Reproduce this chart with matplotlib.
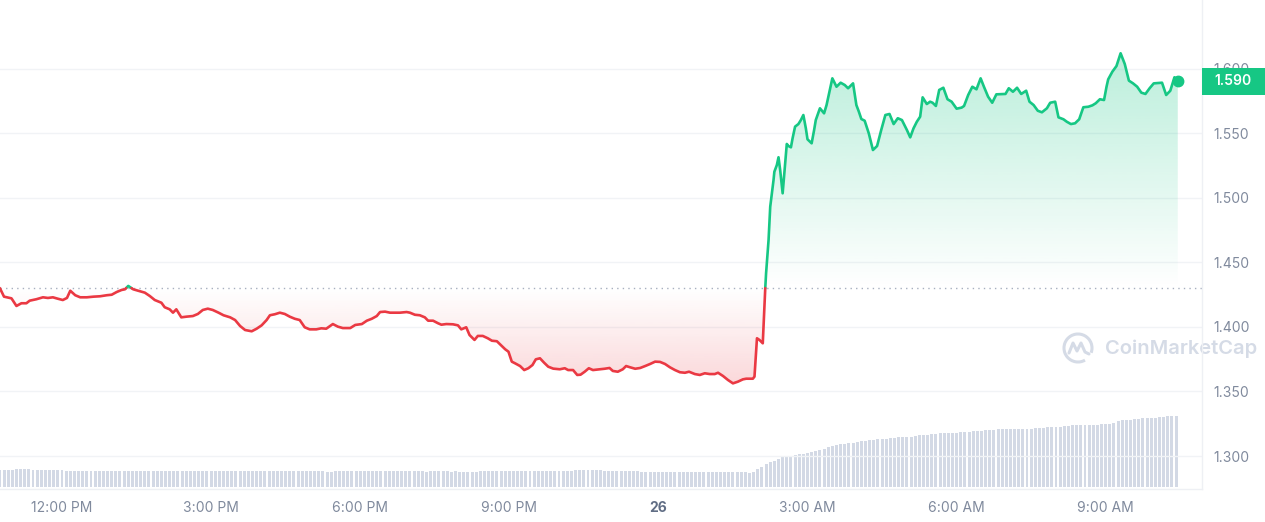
import numpy as np
import matplotlib
matplotlib.use("Agg")
import matplotlib.pyplot as plt
from matplotlib.path import Path
from matplotlib.patches import Rectangle, Arc
from matplotlib.lines import Line2D
from matplotlib.colors import to_rgb
import matplotlib.transforms as mtransforms

plt.rcParams['font.family'] = ['Inter', 'DejaVu Sans']

# ---------------- data ----------------
START_HOUR = 10.75          # first point: 10:45 AM on the 25th
price_minutes = [0, 5, 14, 20, 26, 32, 36, 44, 52, 58, 64, 70, 76, 81, 85, 91, 97, 105, 113, 121,
                 129, 135, 141, 147, 151, 155, 161, 169, 175, 181, 187, 195, 199, 205, 209, 213, 219, 225, 233, 239,
                 245, 251, 257, 264, 270, 278, 284, 290, 296, 304, 310, 316, 322, 326, 332, 338, 344, 350, 356, 362,
                 368, 374, 382, 388, 394, 402, 408, 414, 423, 429, 437, 443, 449, 455, 459, 465, 471, 483, 491, 495,
                 501, 507, 513, 517, 523, 529, 533, 539, 547, 553, 557, 563, 567, 573, 577, 583, 589, 594, 600, 606,
                 610, 614, 618, 622, 628, 633, 638, 643, 647, 652, 657, 662, 668, 676, 682, 686, 692, 697, 701, 706,
                 711, 716, 724, 730, 736, 740, 746, 752, 756, 761, 767, 773, 779, 785, 791, 797, 803, 809, 815, 821,
                 827, 832, 839, 845, 851, 857, 863, 867, 873, 879, 885, 891, 897, 901, 909, 911, 914, 917, 921, 924,
                 925, 928, 930, 934, 935, 938, 940, 942, 945, 947, 950, 952, 955, 957, 960, 964, 967, 970, 973, 975,
                 980, 983, 985, 990, 995, 998, 1002, 1005, 1010, 1015, 1020, 1024, 1030, 1034, 1037, 1040, 1044, 1049, 1054, 1059,
                 1064, 1069, 1074, 1079, 1084, 1089, 1095, 1099, 1103, 1107, 1111, 1114, 1119, 1123, 1126, 1130, 1134, 1139, 1144, 1149,
                 1155, 1161, 1164, 1169, 1174, 1179, 1184, 1188, 1193, 1198, 1203, 1214, 1218, 1223, 1228, 1233, 1239, 1243, 1248, 1253,
                 1258, 1264, 1268, 1274, 1278, 1284, 1288, 1293, 1298, 1303, 1308, 1314, 1319, 1323, 1328, 1333, 1336, 1338, 1343, 1348,
                 1353, 1358, 1363, 1368, 1373, 1378, 1383, 1388, 1393, 1403, 1408, 1413, 1418, 1422]
price_values = [1.4300, 1.4234, 1.4221, 1.4162, 1.4183, 1.4183, 1.4203, 1.4214, 1.4229, 1.4224, 1.4229, 1.4218, 1.4208, 1.4224, 1.4280, 1.4245, 1.4229, 1.4229, 1.4234, 1.4237,
                1.4245, 1.4249, 1.4270, 1.4286, 1.4291, 1.4317, 1.4291, 1.4276, 1.4265, 1.4239, 1.4208, 1.4187, 1.4152, 1.4136, 1.4110, 1.4136, 1.4074, 1.4079, 1.4084, 1.4100,
                1.4131, 1.4141, 1.4131, 1.4110, 1.4090, 1.4074, 1.4053, 1.4007, 1.3976, 1.3966, 1.3986, 1.4012, 1.4053, 1.4090, 1.4098, 1.4110, 1.4100, 1.4079, 1.4063, 1.4053,
                1.3997, 1.3981, 1.3981, 1.3989, 1.3986, 1.4022, 1.4002, 1.3991, 1.3991, 1.4015, 1.4022, 1.4048, 1.4063, 1.4084, 1.4115, 1.4118, 1.4110, 1.4110, 1.4115, 1.4110,
                1.4094, 1.4090, 1.4074, 1.4048, 1.4048, 1.4028, 1.4017, 1.4022, 1.4020, 1.4012, 1.3981, 1.3997, 1.3937, 1.3899, 1.3930, 1.3930, 1.3912, 1.3893, 1.3889, 1.3852,
                1.3827, 1.3808, 1.3731, 1.3718, 1.3697, 1.3666, 1.3680, 1.3705, 1.3749, 1.3757, 1.3723, 1.3692, 1.3677, 1.3672, 1.3680, 1.3666, 1.3666, 1.3628, 1.3630, 1.3653,
                1.3680, 1.3666, 1.3672, 1.3676, 1.3682, 1.3659, 1.3653, 1.3672, 1.3697, 1.3687, 1.3676, 1.3682, 1.3697, 1.3713, 1.3731, 1.3729, 1.3713, 1.3687, 1.3666, 1.3649,
                1.3645, 1.3653, 1.3635, 1.3628, 1.3641, 1.3635, 1.3635, 1.3645, 1.3620, 1.3589, 1.3563, 1.3576, 1.3594, 1.3599, 1.3599, 1.3615, 1.3912, 1.3899, 1.3873, 1.4299,
                1.4415, 1.4673, 1.4930, 1.5137, 1.5201, 1.5253, 1.5313, 1.5214, 1.5034, 1.5189, 1.5416, 1.5400, 1.5390, 1.5460, 1.5550, 1.5570, 1.5601, 1.5640, 1.5537, 1.5452,
                1.5421, 1.5524, 1.5601, 1.5692, 1.5653, 1.5717, 1.5834, 1.5924, 1.5859, 1.5890, 1.5872, 1.5847, 1.5885, 1.5717, 1.5666, 1.5609, 1.5596, 1.5498, 1.5369, 1.5400,
                1.5524, 1.5640, 1.5648, 1.5570, 1.5615, 1.5601, 1.5524, 1.5467, 1.5537, 1.5588, 1.5627, 1.5777, 1.5725, 1.5743, 1.5735, 1.5710, 1.5834, 1.5851, 1.5762, 1.5743,
                1.5689, 1.5697, 1.5710, 1.5795, 1.5859, 1.5839, 1.5924, 1.5859, 1.5782, 1.5735, 1.5800, 1.5803, 1.5847, 1.5820, 1.5851, 1.5803, 1.5828, 1.5743, 1.5717, 1.5673,
                1.5661, 1.5692, 1.5735, 1.5743, 1.5622, 1.5607, 1.5588, 1.5570, 1.5576, 1.5607, 1.5700, 1.5704, 1.5715, 1.5731, 1.5762, 1.5756, 1.5859, 1.5916, 1.5975, 1.6019,
                1.6118, 1.6035, 1.5906, 1.5885, 1.5859, 1.5813, 1.5803, 1.5847, 1.5885, 1.5890, 1.5795, 1.5828, 1.5932, 1.5900]

VOLUME_STEP_MIN = 5          # one bar per 5 minutes, starting at START_HOUR
volume_values = [17, 17, 17, 17, 18, 18, 18, 18, 17, 17, 17, 17, 17, 17, 17, 17,
                 16, 16, 16, 16, 16, 16, 16, 16, 16, 16, 16, 16, 16, 16, 16, 16, 16, 16, 16, 16,
                 16, 16, 16, 16, 16, 16, 16, 16, 16, 16, 16, 16, 16, 16, 16, 16, 16, 16, 16, 16,
                 16, 16, 16, 16, 16, 16, 16, 16, 16, 16, 16, 16, 16, 16, 16, 16, 16, 16, 16, 16,
                 16, 16, 16, 15, 15,
                 16, 16, 16, 16, 16, 16, 16, 16, 16, 16, 16, 16, 16, 16, 16, 16, 16, 16, 16, 16, 16, 16,
                 15, 16, 16, 16, 16, 16, 15, 16, 15, 15, 15, 15, 15,
                 16, 16, 16, 16, 16, 16, 16, 16, 16, 16, 16, 16, 16, 16, 16, 16, 16, 16, 16, 16, 16, 16, 16,
                 17, 17, 17, 17, 17, 17, 17,
                 16, 16, 16, 16, 16, 16, 16, 16, 16,
                 15, 15, 15, 15, 15, 15, 15, 15, 15, 15, 15, 15, 15, 15, 15, 15, 15, 15, 15, 15, 15, 15, 15, 15, 15, 15,
                 14, 15.3, 18, 20.3, 23.3, 25, 26.3, 28.3, 30, 30.7,
                 31.3, 32.3, 33, 33.3, 34, 34.7, 35.7, 36.7, 37.7, 39.7,
                 41, 42, 43, 43.3, 44, 44.3, 45, 45.7, 46.3, 47.3,
                 47.3, 48, 48, 48.3, 49, 49, 50, 50, 50, 50.3,
                 51, 51.7, 52.3, 52.3, 52.7, 53.3, 53.7, 54, 54, 54.3,
                 54.3, 54.7, 55, 55.3, 55.7, 56, 56.3, 56.7, 56.7, 57.3,
                 57.7, 57.7, 57.7, 57.7, 57.7, 58.3, 58.3, 58.3, 58.3, 58.7,
                 59, 59.3, 59.7, 60, 60, 60.3, 60.7, 61, 61.7, 61.7,
                 61.7, 61.7, 61.7, 62, 62.3, 62.7, 62.7, 63, 64.3, 66,
                 67, 67.3, 67.3, 68, 68.3, 68.7, 69.3, 69.3, 69.3, 69.7,
                 70.3, 70.7, 70.7, 71.3]

x_tick_hours = [12, 15, 18, 21, 24, 27, 30, 33]
x_tick_labels = ["12:00 PM", "3:00 PM", "6:00 PM", "9:00 PM", "26", "3:00 AM", "6:00 AM", "9:00 AM"]
y_ticks = [1.300, 1.350, 1.400, 1.450, 1.500, 1.550, 1.600]
last_price_label = "1.590"
watermark = "CoinMarketCap"

# ---------------- style ----------------
GREEN = '#16c784'
RED = '#ea3943'
TEXT = '#808a9d'
GRID = '#f1f3f6'
VOL = '#d3d9e5'

W, H = 1265, 522
fig = plt.figure(figsize=(W / 100, H / 100), dpi=100)
fig.patch.set_facecolor('white')
rect = [0, 33 / H, 1202 / W, 489 / H]
axv = fig.add_axes(rect, zorder=0)
ax = fig.add_axes(rect, zorder=1)
for a in (ax, axv):
    a.patch.set_alpha(0)

XMIN, XMAX = 12 - 62 / 49.7, 12 + 1140 / 49.7
YMIN, YMAX = 1.27453, 1.65302

n = min(len(price_minutes), len(price_values))
t = START_HOUR + np.asarray(price_minutes[:n], float) / 60
p = np.asarray(price_values[:n], float)
base = p[0]

# insert baseline crossings so colours switch exactly at the open price
tt, pp = [t[0]], [p[0]]
for i in range(1, n):
    a0, b0 = p[i - 1] - base, p[i] - base
    if a0 * b0 < 0:
        f = a0 / (a0 - b0)
        tt.append(t[i - 1] + f * (t[i] - t[i - 1]))
        pp.append(base)
    tt.append(t[i])
    pp.append(p[i])
tt = np.array(tt)
pp = np.array(pp)
up = pp >= base
dn = pp <= base


def grad_fill(mask, color, y0, y1, a0, a1):
    poly = ax.fill_between(tt, pp, base, where=mask, facecolor='none',
                           edgecolor='none', linewidth=0)
    paths = poly.get_paths()
    if not paths:
        return
    cp = Path.make_compound_path(*paths)
    N = 256
    arr = np.zeros((N, 1, 4))
    arr[..., :3] = to_rgb(color)
    arr[:, 0, 3] = np.linspace(a0, a1, N)
    im = ax.imshow(arr, extent=[tt[0], tt[-1], y0, y1], origin='lower',
                   aspect='auto', zorder=1.5, interpolation='bilinear')
    im.set_clip_path(cp, transform=ax.transData)


grad_fill(up, GREEN, base, 1.615, 0.0, 0.30)
grad_fill(dn, RED, 1.355, base, 0.20, 0.0)

ax.plot(tt, np.where(up, pp, np.nan), color=GREEN, lw=1.9, zorder=3,
        solid_joinstyle='round', solid_capstyle='round')
ax.plot(tt, np.where(dn, pp, np.nan), color=RED, lw=1.9, zorder=3,
        solid_joinstyle='round', solid_capstyle='round')
ax.plot([t[-1]], [p[-1]], 'o', ms=7.5, color=GREEN, zorder=4, clip_on=False)

ax.axhline(base, color='#a7afbf', lw=1, ls=(0, (1, 3)), zorder=2)

# volume
vt = START_HOUR + np.arange(len(volume_values)) * VOLUME_STEP_MIN / 60
axv.bar(vt, volume_values, width=3.6 / 60, color=VOL, align='center', linewidth=0)
axv.set_xlim(XMIN, XMAX)
axv.set_ylim(-2, 487)
axv.axis('off')

# axes styling
ax.set_xlim(XMIN, XMAX)
ax.set_ylim(YMIN, YMAX)
ax.set_yticks(y_ticks)
ax.yaxis.set_major_formatter(matplotlib.ticker.FormatStrFormatter('%.3f'))
ax.yaxis.tick_right()
ax.grid(axis='y', color=GRID, lw=1, zorder=0)
ax.set_axisbelow(True)
ax.tick_params(axis='y', length=0, pad=8, labelsize=10, labelcolor=TEXT)
ax.set_xticks(x_tick_hours)
ax.set_xticklabels(x_tick_labels)
ax.tick_params(axis='x', length=0, pad=9, labelsize=10, labelcolor=TEXT)
for lab in ax.get_xticklabels():
    if lab.get_text() == "26":
        lab.set_fontweight('bold')
        lab.set_color('#616e85')
for s in ('top', 'left'):
    ax.spines[s].set_visible(False)
for s in ('right', 'bottom'):
    ax.spines[s].set_color('#eef0f4')
    ax.spines[s].set_linewidth(1)

# last price tag
trans = mtransforms.blended_transform_factory(fig.transFigure, ax.transData)
dpp = (YMAX - YMIN) / 489.0
last = p[-1]
fig.add_artist(Rectangle((1202 / W, last - 13.5 * dpp), (W - 1202) / W, 27 * dpp,
                         transform=trans, facecolor=GREEN, edgecolor='none',
                         zorder=5, clip_on=False))
fig.text(1233 / W, last, last_price_label, transform=trans, ha='center', va='center',
         color='white', fontsize=10, fontweight='semibold', zorder=6)

# watermark
fig.text(1105 / W, 1 - 349 / H, watermark, fontsize=14.5, fontweight='semibold',
         color='#d5dbe6', ha='left', va='center', zorder=-1)
cx, cy, r = 10.78, (H - 348) / 100, 0.14
fig.add_artist(Arc((cx, cy), 2 * r, 2 * r, theta1=-20, theta2=300,
                   transform=fig.dpi_scale_trans, color='#d5dbe6', lw=2.2, zorder=-1))
wx = np.array([-0.09, -0.05, -0.01, 0.03, 0.07, 0.11])
wy = np.array([-0.05, 0.05, -0.03, 0.05, -0.04, -0.06])
fig.add_artist(Line2D(cx + wx, cy + wy, transform=fig.dpi_scale_trans, color='#d5dbe6',
                      lw=2.2, solid_joinstyle='round', solid_capstyle='round', zorder=-1))

fig.savefig('out.png', dpi=100, facecolor='white')
